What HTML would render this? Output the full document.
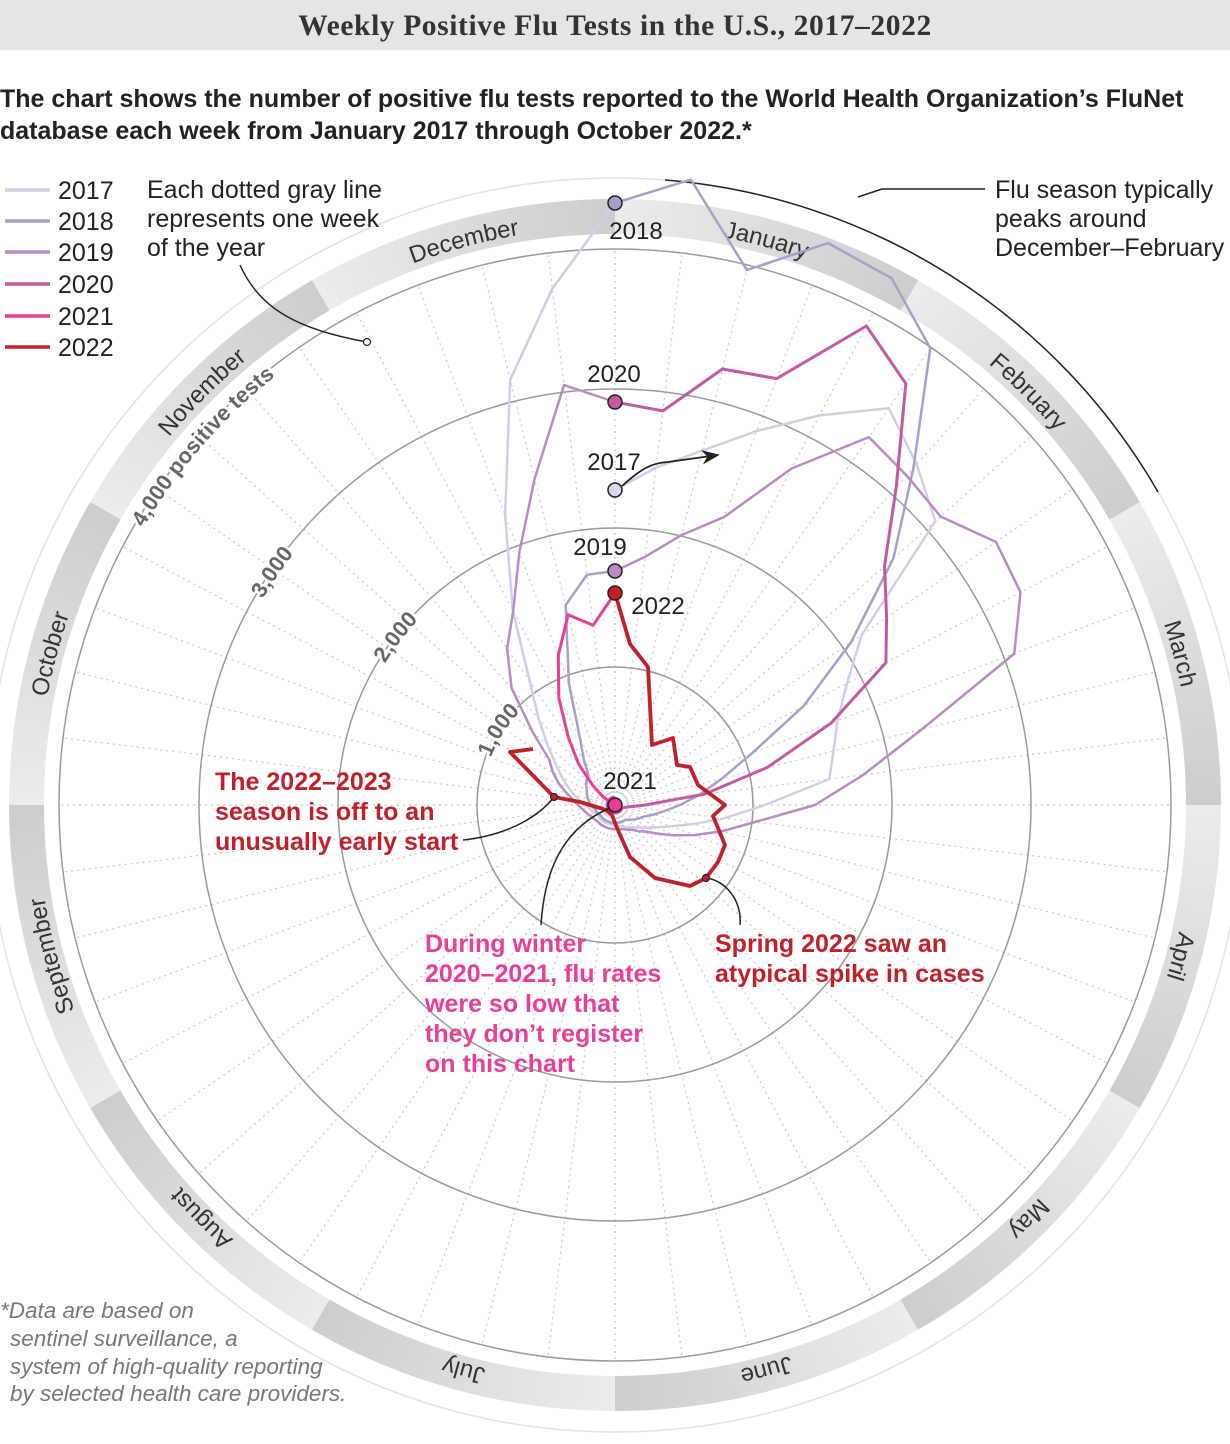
<!DOCTYPE html>
<html><head><meta charset="utf-8"><style>
html,body{margin:0;padding:0;background:#fff;}
body{width:1230px;height:1444px;position:relative;overflow:hidden;font-family:"Liberation Sans",sans-serif;}
#band{position:absolute;left:9px;top:199px;width:1212px;height:1212px;border-radius:50%;background:repeating-conic-gradient(from 0deg,#ececec 0deg,#cdcdcd 30deg);}
#inner{position:absolute;left:44px;top:234px;width:1142px;height:1142px;border-radius:50%;background:#fff;}
#title{position:absolute;left:0;top:0;width:1230px;height:50px;background:#e5e5e4;font-family:"Liberation Serif",serif;font-weight:bold;font-size:29.5px;color:#333;text-align:center;line-height:52px;letter-spacing:0.6px;}
#sub{position:absolute;left:0;top:83px;font-size:25px;font-weight:bold;color:#222;line-height:32px;white-space:nowrap;}
svg{position:absolute;left:0;top:0;}
</style></head><body>
<div id="band"></div><div id="inner"></div>
<div id="title">Weekly Positive Flu Tests in the U.S., 2017–2022</div>
<div id="sub">The chart shows the number of positive flu tests reported to the World Health Organization’s FluNet<br>database each week from January 2017 through October 2022.*</div>
<svg id="s" width="1230" height="1444" viewBox="0 0 1230 1444" font-family="Liberation Sans, sans-serif">
<defs>
<path id="mpath" d="M615,227 A578,578 0 1 1 615,1383 A578,578 0 1 1 615,227"/>
<path id="r1" d="M615,672 A133,133 0 1 1 615,938 A133,133 0 1 1 615,672"/>
<path id="r2" d="M615,535 A270,270 0 1 1 615,1075 A270,270 0 1 1 615,535"/>
<path id="r3" d="M615,397 A408,408 0 1 1 615,1213 A408,408 0 1 1 615,397"/>
<path id="r4" d="M615,258 A547,547 0 1 1 615,1352 A547,547 0 1 1 615,258"/>
<marker id="ah" markerWidth="10" markerHeight="8" refX="9" refY="4" orient="auto"><path d="M0,0 L10,4 L0,8 L3,4Z" fill="#222"/></marker>
</defs>
<g id="spokes"></g>
<g fill="none" stroke="#9a9a9a" stroke-width="1.5">
<circle cx="615" cy="805" r="138"/><circle cx="615" cy="805" r="277"/><circle cx="615" cy="805" r="416"/><circle cx="615" cy="805" r="556"/>
</g>
<circle cx="615" cy="805" r="627" fill="none" stroke="#e2e2e2" stroke-width="1.5"/>
<path d="M665,180 A627,627 0 0 1 1158,492" fill="none" stroke="#222" stroke-width="1.5"/>
<polyline points="858,197 882,189 985,189" fill="none" stroke="#222" stroke-width="1.5"/>
<g font-size="24" fill="#333" text-anchor="middle" id="months"></g>
<g font-size="22" font-weight="bold" fill="#666" stroke="#fff" stroke-width="5" paint-order="stroke" text-anchor="middle">
<text><textPath href="#r1" startOffset="84.1%">1,000</textPath></text>
<text><textPath href="#r2" startOffset="85.4%">2,000</textPath></text>
<text><textPath href="#r3" startOffset="84.5%">3,000</textPath></text>
<text><textPath href="#r4" startOffset="86.4%">4,000 positive tests</textPath></text>
</g>
<g id="series" fill="none" stroke-linejoin="round" stroke-linecap="round"></g>
<polyline fill="none" stroke="#c0202a" stroke-width="3.8" stroke-linejoin="round" points="615,593 630,644 648,667 652,745 673,738 677,765 690,767 698,785 725,805 713,816 725,845 718,862 706,878 690,886 655,878 630,857 617,828 612,815 606,810 600,808 580,802 554,797 510,752 533,749"/>
<g stroke="#222" stroke-width="1.5">
<circle cx="615" cy="203" r="7" fill="#a3a3c9"/>
<circle cx="615" cy="402" r="7" fill="#c25aa0"/>
<circle cx="615" cy="490" r="7" fill="#d8d8ea"/>
<circle cx="615" cy="571" r="7" fill="#b98cc4"/>
<circle cx="615" cy="593" r="7" fill="#c0202a"/>
<circle cx="615" cy="805" r="7" fill="#e83e96"/>
</g>
<g font-size="24" fill="#222" text-anchor="middle">
<text x="636" y="239">2018</text><text x="614" y="382">2020</text><text x="614" y="470">2017</text>
<text x="600" y="555">2019</text><text x="658" y="614">2022</text><text x="630" y="789">2021</text>
</g>
<path d="M622,486 C640,470 650,463 668,462 L718,455" fill="none" stroke="#222" stroke-width="1.8" marker-end="url(#ah)"/>
<g fill="none" stroke="#222" stroke-width="1.5">
<path d="M240,265 C260,310 300,330 367,342"/>
<path d="M463,840 C510,835 540,815 554,797"/>
<path d="M541,925 C545,860 570,825 610,808"/>
<path d="M740,925 C742,900 725,880 706,878"/>
</g>
<g fill="#fff" stroke="#222" stroke-width="1.2"><circle cx="367" cy="342" r="3.5"/><circle cx="554" cy="797" r="3.5" fill="#c0202a"/><circle cx="706" cy="878" r="3.5" fill="#c0202a"/></g>
<g stroke-width="3.5">
<line x1="5" y1="190" x2="50" y2="190" stroke="#cfd0e6"/><line x1="5" y1="221" x2="50" y2="221" stroke="#a3a3c9"/>
<line x1="5" y1="252" x2="50" y2="252" stroke="#b98cc4"/><line x1="5" y1="284" x2="50" y2="284" stroke="#c25aa0"/>
<line x1="5" y1="316" x2="50" y2="316" stroke="#e83e96"/><line x1="5" y1="347" x2="50" y2="347" stroke="#c0202a"/>
</g>
<g font-size="25" fill="#222">
<text x="58" y="199">2017</text><text x="58" y="230">2018</text><text x="58" y="261">2019</text>
<text x="58" y="293">2020</text><text x="58" y="325">2021</text><text x="58" y="356">2022</text>
<text x="147" y="198">Each dotted gray line</text><text x="147" y="227">represents one week</text><text x="147" y="256">of the year</text>
<text x="995" y="198">Flu season typically</text><text x="995" y="227">peaks around</text><text x="995" y="256">December–February</text>
</g>
<g font-size="25" font-weight="bold" fill="#c0202a">
<text x="215" y="790">The 2022–2023</text><text x="215" y="820">season is off to an</text><text x="215" y="850">unusually early start</text>
<text x="715" y="952">Spring 2022 saw an</text><text x="715" y="982">atypical spike in cases</text>
</g>
<g font-size="25" font-weight="bold" fill="#e83e96">
<text x="425" y="952">During winter</text><text x="425" y="982">2020–2021, flu rates</text><text x="425" y="1012">were so low that</text>
<text x="425" y="1042">they don’t register</text><text x="425" y="1072">on this chart</text>
</g>
<g font-size="22.5" font-style="italic" fill="#777">
<text x="0" y="1318">*Data are based on</text><text x="10" y="1346">sentinel surveillance, a</text>
<text x="10" y="1374">system of high-quality reporting</text><text x="10" y="1401">by selected health care providers.</text>
</g>
</svg>
<script>
var NS="http://www.w3.org/2000/svg",cx=615,cy=805;
var sp=document.getElementById("spokes");
for(var k=0;k<52;k++){var a=k*2*Math.PI/52,l=document.createElementNS(NS,"line");
l.setAttribute("x1",cx+12*Math.sin(a));l.setAttribute("y1",cy-12*Math.cos(a));
l.setAttribute("x2",cx+556*Math.sin(a));l.setAttribute("y2",cy-556*Math.cos(a));
l.setAttribute("stroke","#c8c8c8");l.setAttribute("stroke-width","1.2");l.setAttribute("stroke-dasharray","2 4");sp.appendChild(l);}
var months=["January","February","March","April","May","June","July","August","September","October","November","December"];
var mg=document.getElementById("months");
months.forEach(function(m,i){var t=document.createElementNS(NS,"text"),tp=document.createElementNS(NS,"textPath");
tp.setAttribute("href","#mpath");tp.setAttribute("startOffset",((i+0.5)/12*100)+"%");tp.textContent=m;t.appendChild(tp);mg.appendChild(t);});
function fill(arr,v){while(arr.length<52)arr.push(v);return arr;}
var S=[
["#cfd0e6",2.5,[315,340,365,400,440,482,455,428,300,262,238,225,216,150,110,80,60,48,40,34,30,27,25,23,22,21,20,20,20,20,20,20,20,20,20,20,22,24,26,30,35,42,50,60,72,90,115,150,220,310,438,520,602]],
["#a3a3c9",2.5,[602,630,551,601,595,555,450,372,287,213,147,110,85,65,50,40,32,28,25,22,20,18,18,18,18,18,18,18,18,18,18,18,18,18,18,18,20,20,22,24,26,28,30,32,35,38,40,55,75,130,206,232,234]],
["#b98cc4",2.5,[234,250,278,308,380,447,440,435,463,458,427,316,250,200,141,110,85,65,50,40,35,30,28,26,25,24,24,24,24,24,24,24,24,24,25,26,28,30,33,37,42,50,60,70,80,110,156,190,219,270,336,423,403]],
["#c25aa0",3,fill([403,397,449,456,541,512,424,360,330,306,231,157,90,30,15,10],8).concat([2])],
["#e83e96",3,fill([],4).slice(0,44).concat([15,30,55,82,121,160,196,181,212])]
];
var sg=document.getElementById("series");
S.forEach(function(s){var pts=[];for(var k=0;k<s[2].length;k++){var a=k*2*Math.PI/52,r=s[2][k];pts.push((cx+r*Math.sin(a)).toFixed(1)+","+(cy-r*Math.cos(a)).toFixed(1));}
var p=document.createElementNS(NS,"polyline");p.setAttribute("points",pts.join(" "));p.setAttribute("stroke",s[0]);p.setAttribute("stroke-width",s[1]);sg.appendChild(p);});
</script>
</body></html>
